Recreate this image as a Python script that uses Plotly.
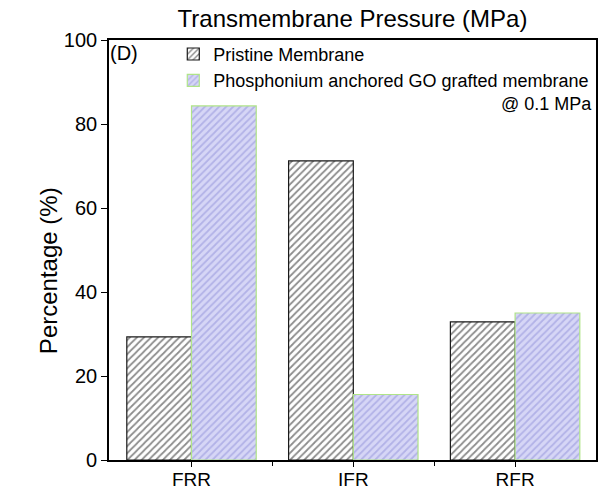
import plotly.graph_objects as go

categories = ["FRR", "IFR", "RFR"]
pristine = [29.3, 71.2, 32.9]
grafted = [84.3, 15.6, 35.0]
series_names = ["Pristine Membrane", "Phosphonium anchored GO grafted membrane"]

xpos = list(range(len(categories)))
font_family = "Liberation Sans, Arial, sans-serif"

fig = go.Figure()
fig.add_trace(go.Bar(
    x=xpos, y=pristine, name=series_names[0],
    marker=dict(
        color="white",
        line=dict(color="#1a1a1a", width=1.2),
        pattern=dict(shape="/", fgcolor="#1a1a1a", bgcolor="white",
                     size=5, solidity=0.35),
    ),
))
fig.add_trace(go.Bar(
    x=xpos, y=grafted, name=series_names[1],
    marker=dict(
        color="#c4c4f0",
        line=dict(color="#b0e488", width=1.2),
        pattern=dict(shape="/", fgcolor="#8e8ed8", bgcolor="#d6d6f6",
                     size=5, solidity=0.35),
    ),
))

# panel tag and operating-pressure note
fig.add_annotation(text="(D)", xref="paper", yref="paper", x=-0.002, y=1.0,
                   xanchor="left", yanchor="top", showarrow=False,
                   font=dict(size=20, color="black", family=font_family))
fig.add_annotation(text="@ 0.1 MPa", xref="paper", yref="paper", x=0.996, y=0.848,
                   xanchor="right", yanchor="middle", showarrow=False,
                   font=dict(size=18, color="black", family=font_family))
# y-axis title
fig.add_annotation(text="Percentage (%)", xref="paper", yref="paper", x=-0.125, y=0.45,
                   xanchor="center", yanchor="middle", textangle=-90, showarrow=False,
                   font=dict(size=24, color="black", family=font_family))

fig.update_layout(
    width=598, height=491,
    margin=dict(l=109, r=2, t=40, b=31),
    paper_bgcolor="white", plot_bgcolor="white",
    barmode="group", bargap=0.2, bargroupgap=0,
    title=dict(text="Transmembrane Pressure (MPa)", x=(109 + 596) / 2 / 598,
               xanchor="center", y=0.963, yanchor="middle",
               font=dict(size=24, color="black", family=font_family)),
    font=dict(family=font_family, color="black"),
    legend=dict(x=0.132, y=1.01, xanchor="left", yanchor="top",
                bgcolor="rgba(0,0,0,0)", font=dict(size=18, color="black"),
                itemwidth=30, tracegroupgap=0),
    showlegend=True,
)
fig.update_xaxes(
    range=[-0.51, 2.5], tickvals=xpos, ticktext=categories, automargin=False,
    showline=True, linecolor="black", linewidth=1.6, mirror=True,
    ticks="outside", ticklen=5, tickwidth=1.4, tickcolor="black",
    ticklabelstandoff=-4,
    minor=dict(tickvals=[0.5, 1.5], ticks="outside", ticklen=4,
               tickwidth=1.2, tickcolor="black"),
    showgrid=False, zeroline=False, tickfont=dict(size=19),
)
fig.update_yaxes(
    range=[0, 100], tickvals=[0, 20, 40, 60, 80, 100], automargin=False,
    showline=True, linecolor="black", linewidth=1.6, mirror=True,
    ticks="outside", ticklen=6, tickwidth=1.4, tickcolor="black",
    showgrid=False, zeroline=False, tickfont=dict(size=20),
)

fig.write_html("out.html")
